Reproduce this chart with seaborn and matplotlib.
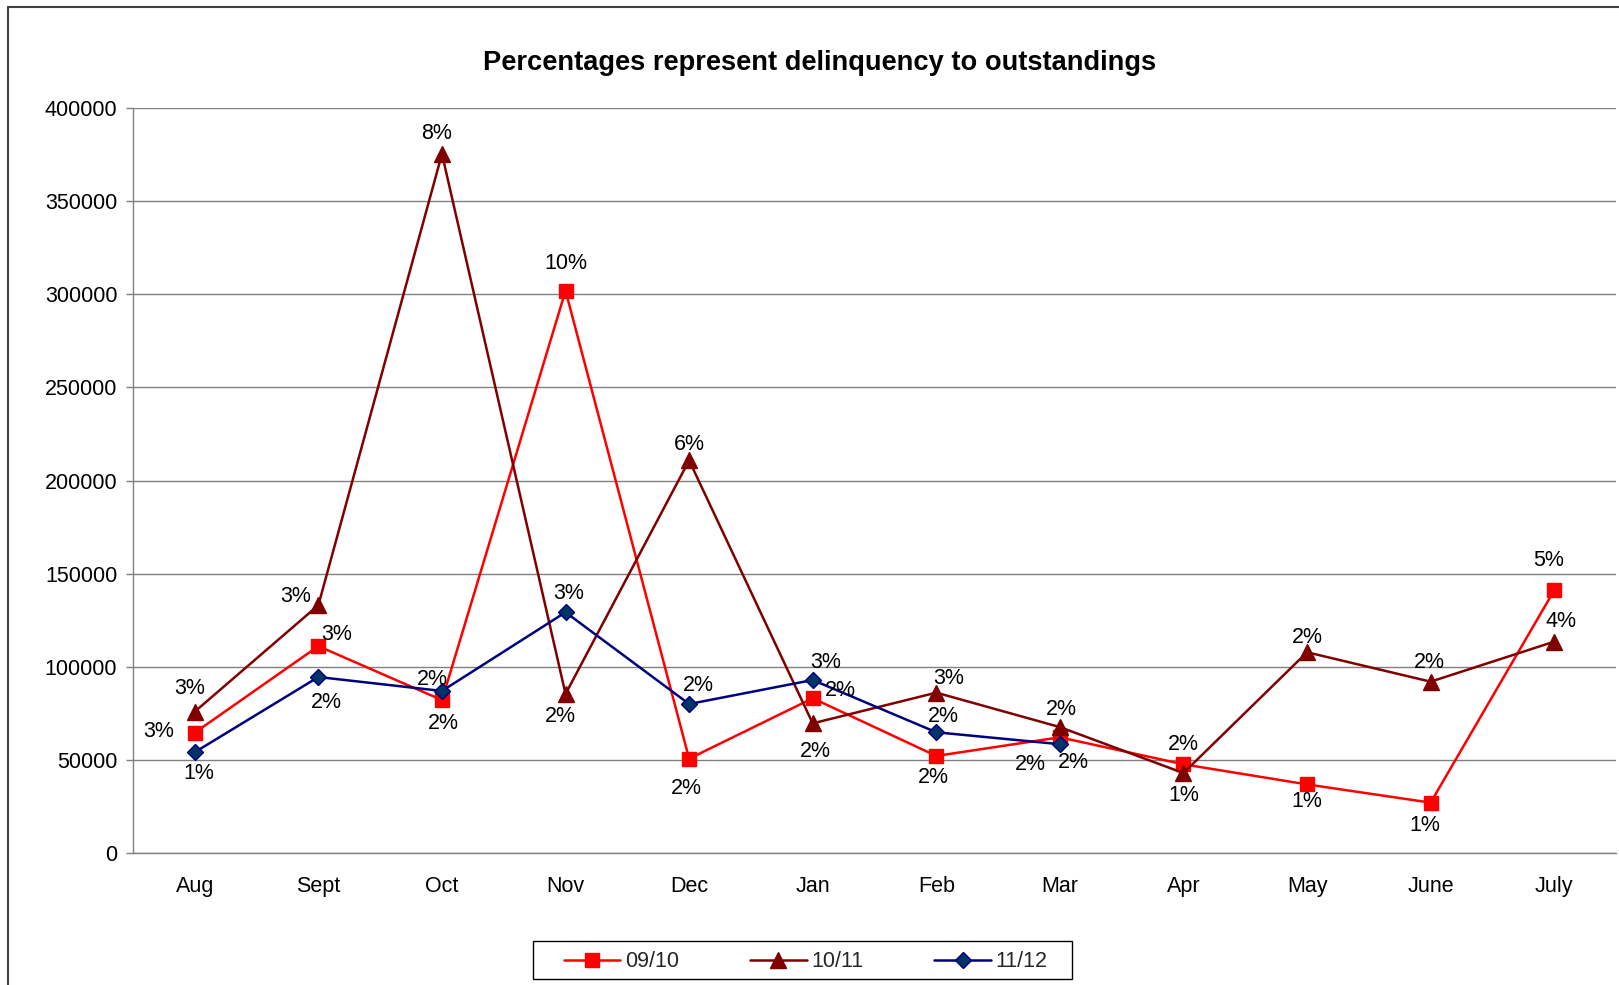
import numpy as np
import pandas as pd
import matplotlib
matplotlib.use("Agg")
import matplotlib.pyplot as plt
import seaborn as sns
from matplotlib.lines import Line2D
from matplotlib.patches import Rectangle

# ---- data ----
months = ["Aug", "Sept", "Oct", "Nov", "Dec", "Jan", "Feb", "Mar", "Apr", "May", "June", "July"]

fy_0910 = [64500, 111000, 82000, 302000, 50500, 83000, 52000, 62000, 47500, 36700, 26900, 141000]
fy_1011 = [75800, 133000, 375500, 85300, 210800, 69500, 86000, 67500, 42800, 107700, 91900, 113400]
fy_1112 = [54000, 94400, 86900, 129200, 79900, 92800, 64700, 58300]

pct_0910 = ["3%", "3%", "2%", "10%", "2%", "2%", "2%", "2%", "2%", "1%", "1%", "5%"]
pct_1011 = ["3%", "3%", "8%", "2%", "6%", "2%", "3%", "2%", "1%", "2%", "2%", "4%"]
pct_1112 = ["1%", "2%", "2%", "3%", "2%", "3%", "2%", "2%"]

y_ticks = list(range(0, 400001, 50000))

# label offsets in points (x right, y up) relative to each marker
off_0910 = [(-26, 0.5), (13, 8.5), (1, -16.5), (0, 19.5), (-2, -21.5), (20, 5.5),
            (-2, -15.5), (-21, -19.5), (0, 14.5), (0, -12.5), (-4, -16.5), (-4, 21.5)]
off_1011 = [(-4, 16.5), (-16, 6.5), (-4, 14.5), (-4, -16.5), (0, 11.5), (2, -20.5),
            (9, 10.5), (1, 12.5), (0, -16.5), (0, 10.5), (-1, 13.5), (5, 14.5)]
off_1112 = [(3, -15.5), (6, -18.5), (-7, 8.5), (2, 13.5), (7, 13.5), (9, 12.5),
            (5, 11.5), (10, -13.5)]

# ---- style ----
sns.set_style("white")
plt.rcParams["font.family"] = ["Liberation Sans", "DejaVu Sans"]
FS = 15.5
GRID = "#808080"

W, H = 1619, 985
fig = plt.figure(figsize=(W / 100, H / 100), dpi=100)
ax = fig.add_axes([133 / W, 1 - 852.7 / H, (1616 - 133) / W, (852.7 - 108.3) / H])

series = [
    ("09/10", fy_0910, pct_0910, off_0910,
     dict(color="#FF0000", marker="s", markersize=10.5, markerfacecolor="#FF0000",
          markeredgecolor="#FF0000")),
    ("10/11", fy_1011, pct_1011, off_1011,
     dict(color="#800000", marker="^", markersize=11, markerfacecolor="#800000",
          markeredgecolor="#800000")),
    ("11/12", fy_1112, pct_1112, off_1112,
     dict(color="#000080", marker="D", markersize=8.5, markerfacecolor="#003366",
          markeredgecolor="#000080")),
]

for name, vals, pcts, offs, kw in series:
    df = pd.DataFrame({"pos": np.arange(len(vals)), "value": vals})
    sns.lineplot(data=df, x="pos", y="value", ax=ax, label=name, linewidth=1.8,
                 markeredgewidth=1, errorbar=None, zorder=3, **kw)
    for i, (v, p, (dx, dy)) in enumerate(zip(vals, pcts, offs)):
        ax.annotate(p, (i, v), xytext=(dx, dy), textcoords="offset points",
                    ha="center", va="center", fontsize=FS, color="black", zorder=4)

# ---- axes ----
ax.set_xlim(-0.5, len(months) - 0.5)
ax.set_ylim(0, 400000)
ax.set_xticks(range(len(months)), months)
ax.set_xticks(np.arange(-0.5, len(months), 1.0), minor=True)
ax.set_yticks(y_ticks, [str(v) for v in y_ticks])
ax.set_xlabel("")
ax.set_ylabel("")

ax.yaxis.grid(True, color=GRID, linewidth=1)
ax.xaxis.grid(False)
ax.set_axisbelow(True)

for s in ("top", "right"):
    ax.spines[s].set_visible(False)
for s in ("left", "bottom"):
    ax.spines[s].set_color(GRID)
    ax.spines[s].set_linewidth(1)

ax.tick_params(axis="x", which="major", length=0, pad=16.5, labelsize=FS, labelcolor="black")
ax.tick_params(axis="x", which="minor", length=5, width=1, color=GRID, direction="out")
ax.tick_params(axis="y", which="major", length=4.8, width=1, color=GRID, pad=6.5,
               labelsize=FS, labelcolor="black", direction="out", left=True)

# ---- title ----
fig.text(0.5065, 1 - 70.5 / H, "Percentages represent delinquency to outstandings",
         ha="center", va="baseline", fontsize=19.6, fontweight="bold", color="black")

# ---- legend ----
leg = ax.get_legend()
if leg is not None:
    leg.remove()
handles, labels = ax.get_legend_handles_labels()
fig.legend(handles, labels, loc="center", bbox_to_anchor=(0.4975, 0.0235), ncol=3,
           frameon=False, fontsize=FS, handlelength=2.64, handletextpad=0.2,
           columnspacing=3.3)
fig.patches.append(Rectangle((533 / W, (H - 979) / H), 539 / W, 38 / H,
                             transform=fig.transFigure, fill=False,
                             edgecolor="black", linewidth=1))

# chart area outline (top and left edges)
fig.lines.append(Line2D([8 / W, 1.0], [1 - 7 / H, 1 - 7 / H], transform=fig.transFigure,
                        color="#404040", linewidth=1.5))
fig.lines.append(Line2D([8 / W, 8 / W], [0.0, 1 - 7 / H], transform=fig.transFigure,
                        color="#404040", linewidth=1.5))

fig.savefig("out.png", dpi=100)
